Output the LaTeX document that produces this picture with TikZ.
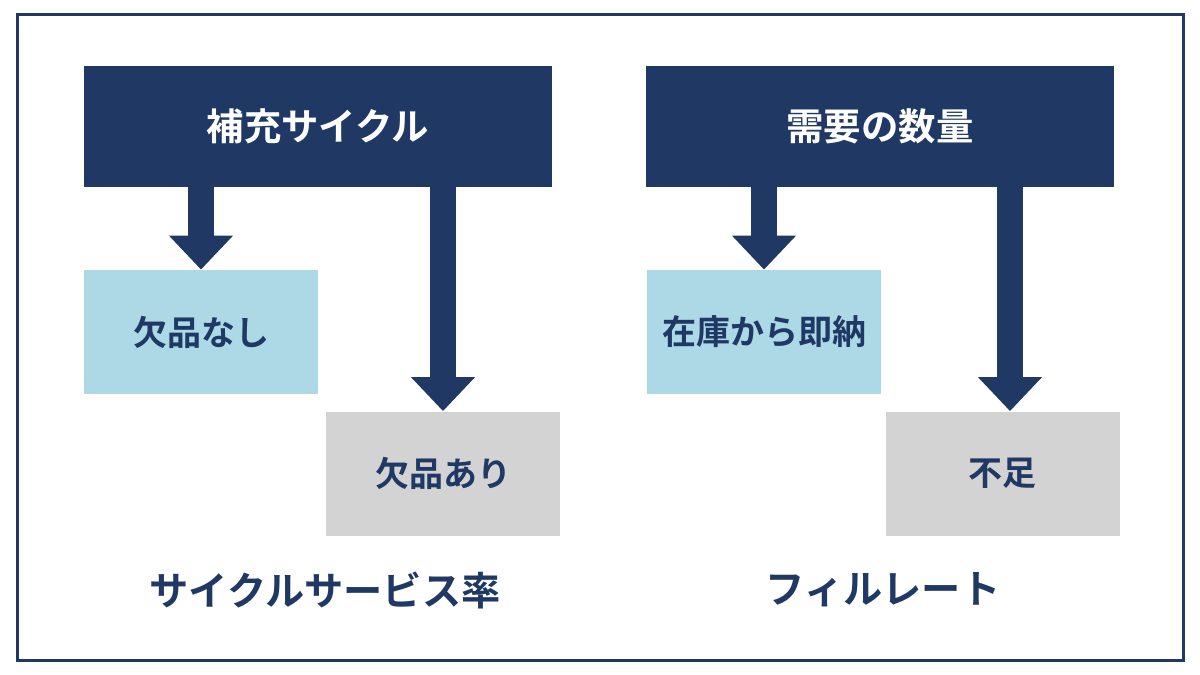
\documentclass[tikz,border=0pt]{standalone}
\usepackage{fontspec}
\newfontfamily\cjk{Noto Sans CJK JP}[BoldFont={Noto Sans CJK JP Bold}]
\usetikzlibrary{arrows.meta}
\definecolor{navy}{HTML}{1F3864}
\definecolor{lblue}{HTML}{ADD8E6}
\definecolor{lgray}{HTML}{D3D3D3}
\begin{document}
\begin{tikzpicture}[x=0.5pt,y=-0.5pt,
  top/.style={fill=navy,draw=none,text=white,font=\cjk\bfseries\fontsize{18.7}{22}\selectfont,minimum width=234pt,minimum height=60.5pt,inner sep=0},
  blue/.style={fill=lblue,draw=none,text=navy,font=\cjk\bfseries\fontsize{17}{20}\selectfont,minimum width=117pt,minimum height=62pt,inner sep=0},
  gray/.style={blue,fill=lgray},
  lab/.style={text=navy,font=\cjk\bfseries\fontsize{19.6}{23}\selectfont},
  arr/.style={draw=navy,line width=13pt,-{Triangle[width=31pt,length=17pt]}}]
\useasboundingbox (0,0) rectangle (1200,675);
\fill[white] (0,0) rectangle (1200,675);
\draw[navy,line width=1.5pt] (17,14) rectangle (1183,660);
\node[top] (t1) at (318,126.5) {補充サイクル};
\node[top] (t2) at (880,126.5) {需要の数量};
\node[blue] (b1) at (201,332) {欠品なし};
\node[gray] (g1) at (443,473.5) {欠品あり};
\node[blue] (b2) at (764,332) {在庫から即納};
\node[gray] (g2) at (1002.5,473.5) {不足};
\coordinate (a1) at (201,0); \coordinate (a2) at (443,0);
\coordinate (a3) at (764,0); \coordinate (a4) at (1010,0);
\draw[arr] (t1.south -| a1) -- (b1.north -| a1);
\draw[arr] (t1.south -| a2) -- (g1.north -| a2);
\draw[arr] (t2.south -| a3) -- (b2.north -| a3);
\draw[arr] (t2.south -| a4) -- (g2.north -| a4);
\node[lab] (l1) at (325,590) {サイクルサービス率};
\node[lab] (l2) at (883,590) {フィルレート};
\end{tikzpicture}
\end{document}
